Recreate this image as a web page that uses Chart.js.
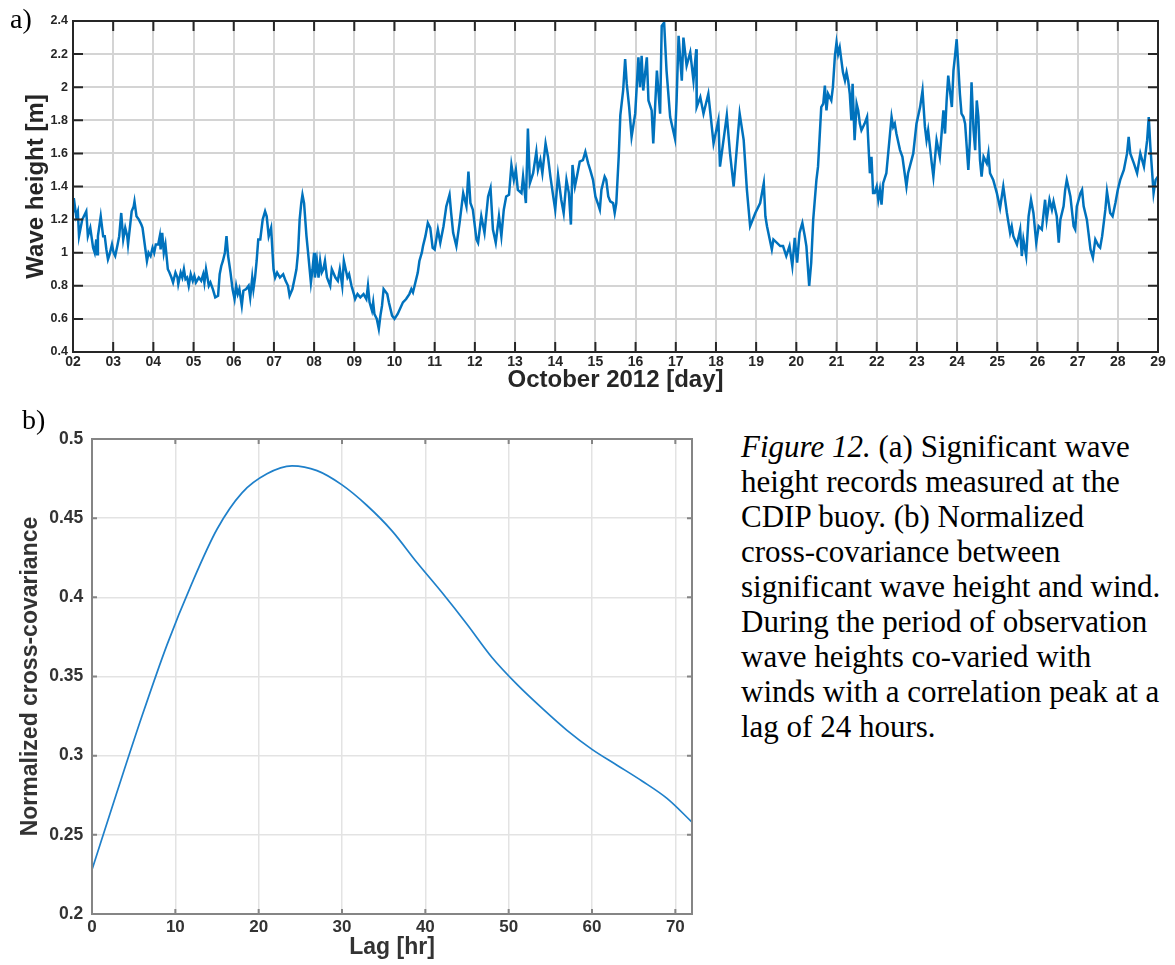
<!DOCTYPE html>
<html>
<head>
<meta charset="utf-8">
<script src="https://cdn.jsdelivr.net/npm/chart.js@4.4.0/dist/chart.umd.min.js"></script>
<style>
  html, body { margin: 0; padding: 0; background: #fff; }
  body { width: 1175px; height: 965px; position: relative; overflow: hidden; }
  canvas { position: absolute; left: 0; }
  #waveCanvas { top: 0; }
  #lagCanvas { top: 400px; }
  .panel-tag {
    position: absolute;
    font-family: "Liberation Serif", "Times New Roman", serif;
    font-size: 28px; line-height: 28px; color: #000;
  }
  #caption {
    position: absolute; left: 741px; top: 429px;
    font-family: "Liberation Serif", "Times New Roman", serif;
    font-size: 31px; line-height: 35px; color: #000; white-space: nowrap;
  }
</style>
</head>
<body>
<canvas id="waveCanvas" width="1175" height="400"></canvas>
<canvas id="lagCanvas" width="720" height="565"></canvas>
<div class="panel-tag" style="left:10px; top:5px;">a)</div>
<div class="panel-tag" style="left:22px; top:406px;">b)</div>
<div id="caption"><i>Figure 12.</i> (a) Significant wave<br>height records measured at the<br>CDIP buoy. (b) Normalized<br>cross-covariance between<br>significant wave height and wind.<br>During the period of observation<br>wave heights co-varied with<br>winds with a correlation peak at a<br>lag of 24 hours.</div>
<script>
// (a) significant wave height, October 2012 (day of month, metres)
const obsDay = [
  2.00, 2.02, 2.08, 2.12, 2.15, 2.23, 2.33, 2.37, 2.43, 2.50, 2.54, 2.58, 2.60, 2.62, 2.69, 2.75, 2.79, 2.83, 2.87, 2.91, 2.97,
  3.01, 3.05, 3.11, 3.15, 3.20, 3.25, 3.30, 3.35, 3.37, 3.46, 3.51, 3.53, 3.58, 3.64, 3.70, 3.73, 3.84, 3.88, 3.93, 3.98,
  4.02, 4.06, 4.12, 4.16, 4.18, 4.22, 4.26, 4.30, 4.36, 4.40, 4.45, 4.49, 4.55, 4.60, 4.62, 4.68, 4.72, 4.76, 4.80, 4.84, 4.88, 4.93, 4.98,
  5.02, 5.06, 5.13, 5.19, 5.24, 5.27, 5.31, 5.38, 5.42, 5.48, 5.54, 5.61, 5.65, 5.69, 5.73, 5.78, 5.82, 5.86, 5.92, 5.97,
  6.02, 6.06, 6.10, 6.14, 6.20, 6.24, 6.31, 6.37, 6.41, 6.46, 6.49, 6.53, 6.57, 6.61, 6.66, 6.72, 6.78, 6.82, 6.87, 6.93, 6.99,
  7.03, 7.08, 7.15, 7.23, 7.29, 7.35, 7.39, 7.46, 7.52, 7.56, 7.60, 7.64, 7.68, 7.71, 7.75, 7.81, 7.85, 7.92, 7.96,
  8.00, 8.02, 8.07, 8.11, 8.15, 8.19, 8.23, 8.27, 8.32, 8.40, 8.44, 8.53, 8.59, 8.64, 8.70, 8.74, 8.83, 8.87, 8.93, 8.99,
  9.02, 9.08, 9.15, 9.23, 9.30, 9.34, 9.38, 9.44, 9.47, 9.50, 9.56, 9.61, 9.65, 9.69, 9.73, 9.82, 9.86, 9.94,
  10.00, 10.08, 10.21, 10.29, 10.37, 10.42, 10.46, 10.52, 10.58, 10.62, 10.68, 10.71, 10.77, 10.83, 10.89, 10.95,
  11.00, 11.08, 11.14, 11.22, 11.29, 11.37, 11.41, 11.46, 11.54, 11.62, 11.71, 11.79, 11.84, 11.89, 11.95,
  12.04, 12.08, 12.16, 12.24, 12.33, 12.39, 12.45, 12.52, 12.60, 12.66, 12.72, 12.78, 12.85, 12.91, 12.97,
  13.02, 13.07, 13.16, 13.20, 13.27, 13.32, 13.37, 13.45, 13.53, 13.57, 13.63, 13.68, 13.76, 13.82, 13.88, 13.95,
  14.00, 14.07, 14.15, 14.21, 14.28, 14.34, 14.39, 14.43, 14.49, 14.54, 14.61, 14.69, 14.75, 14.82, 14.87, 14.94,
  15.00, 15.07, 15.11, 15.15, 15.23, 15.27, 15.32, 15.37, 15.44, 15.48, 15.52, 15.58, 15.62, 15.69, 15.74, 15.78, 15.84, 15.90, 15.99,
  16.07, 16.11, 16.15, 16.19, 16.28, 16.32, 16.40, 16.44, 16.53, 16.61, 16.65, 16.71, 16.77, 16.86, 16.98,
  17.02, 17.07, 17.15, 17.19, 17.27, 17.36, 17.44, 17.51, 17.52, 17.61, 17.69, 17.81, 17.94,
  18.06, 18.10, 18.27, 18.35, 18.44, 18.59, 18.69, 18.77, 18.85, 18.98,
  19.10, 19.19, 19.23, 19.27, 19.39, 19.43, 19.60, 19.67, 19.75, 19.83, 19.90, 19.96,
  20.02, 20.08, 20.15, 20.21, 20.25, 20.32, 20.37, 20.42, 20.50, 20.54, 20.62, 20.67, 20.71, 20.75, 20.79, 20.87, 20.91, 20.96,
  21.00, 21.04, 21.08, 21.16, 21.21, 21.25, 21.29, 21.33, 21.37, 21.40, 21.45, 21.50, 21.54, 21.58, 21.62, 21.70, 21.76, 21.83, 21.87, 21.91, 21.95,
  22.00, 22.04, 22.08, 22.12, 22.16, 22.24, 22.37, 22.41, 22.45, 22.49, 22.58, 22.64, 22.74, 22.78, 22.91, 22.99,
  23.08, 23.14, 23.20, 23.24, 23.28, 23.37, 23.41, 23.49, 23.57, 23.66, 23.70, 23.74, 23.78, 23.87, 23.91, 23.95, 23.99,
  24.03, 24.07, 24.11, 24.16, 24.20, 24.28, 24.32, 24.36, 24.41, 24.45, 24.49, 24.53, 24.57, 24.61, 24.66, 24.74, 24.78, 24.82, 24.90, 24.99,
  25.07, 25.15, 25.24, 25.32, 25.36, 25.40, 25.49, 25.57, 25.61, 25.65, 25.72, 25.78, 25.84, 25.90, 25.97,
  26.03, 26.11, 26.19, 26.23, 26.30, 26.36, 26.40, 26.48, 26.53, 26.57, 26.65, 26.69, 26.73, 26.82, 26.90, 26.94, 26.98,
  27.07, 27.11, 27.15, 27.23, 27.27, 27.32, 27.38, 27.44, 27.52, 27.56, 27.61, 27.69, 27.73, 27.81, 27.87, 27.94,
  28.00, 28.06, 28.15, 28.23, 28.27, 28.31, 28.40, 28.48, 28.56, 28.65, 28.73, 28.77, 28.81, 28.85, 28.89, 28.94, 29.00
];
const waveHeight = [
  1.25, 1.33, 1.22, 1.25, 1.10, 1.20, 1.25, 1.10, 1.15, 1.03, 1.00, 1.08, 0.99, 1.10, 1.22, 1.10, 1.10, 1.02, 0.96, 0.99, 1.05,
  1.00, 0.98, 1.05, 1.10, 1.24, 1.08, 1.15, 1.10, 1.05, 1.25, 1.28, 1.31, 1.22, 1.20, 1.17, 1.15, 0.95, 1.00, 0.98, 1.03,
  1.00, 1.05, 1.05, 1.10, 1.02, 1.12, 1.00, 1.05, 0.90, 0.88, 0.85, 0.82, 0.88, 0.85, 0.81, 0.88, 0.85, 0.90, 0.84, 0.85, 0.80, 0.87, 0.83,
  0.86, 0.82, 0.85, 0.83, 0.87, 0.82, 0.90, 0.80, 0.82, 0.78, 0.73, 0.74, 0.87, 0.92, 0.95, 1.00, 1.10, 0.98, 0.88, 0.78,
  0.72, 0.80, 0.75, 0.78, 0.68, 0.77, 0.78, 0.80, 0.73, 0.85, 0.78, 0.85, 0.95, 1.08, 1.08, 1.20, 1.25, 1.22, 1.10, 1.15, 0.90,
  0.85, 0.88, 0.85, 0.87, 0.83, 0.80, 0.74, 0.78, 0.85, 0.90, 1.00, 1.20, 1.30, 1.35, 1.30, 1.10, 1.00, 0.82, 0.90,
  1.00, 0.85, 0.95, 0.85, 0.95, 0.88, 0.90, 0.95, 0.85, 0.80, 0.90, 0.85, 0.83, 0.90, 0.80, 0.95, 0.85, 0.87, 0.80, 0.75,
  0.72, 0.75, 0.73, 0.75, 0.72, 0.80, 0.70, 0.65, 0.70, 0.63, 0.60, 0.54, 0.62, 0.68, 0.78, 0.75, 0.70, 0.62,
  0.60, 0.63, 0.70, 0.72, 0.75, 0.78, 0.76, 0.82, 0.88, 0.95, 1.00, 1.04, 1.10, 1.18, 1.15, 1.03,
  1.02, 1.14, 1.06, 1.16, 1.28, 1.35, 1.24, 1.12, 1.04, 1.18, 1.36, 1.28, 1.49, 1.30, 1.26,
  1.08, 1.06, 1.22, 1.12, 1.34, 1.39, 1.14, 1.06, 1.22, 1.10, 1.26, 1.34, 1.35, 1.53, 1.44,
  1.50, 1.38, 1.36, 1.46, 1.30, 1.75, 1.42, 1.48, 1.61, 1.50, 1.56, 1.48, 1.66, 1.58, 1.46, 1.34,
  1.26, 1.47, 1.32, 1.24, 1.44, 1.36, 1.17, 1.53, 1.40, 1.46, 1.55, 1.56, 1.61, 1.54, 1.50, 1.44,
  1.34, 1.29, 1.26, 1.38, 1.46, 1.44, 1.34, 1.31, 1.30, 1.24, 1.30, 1.58, 1.83, 1.98, 2.17, 2.02, 1.88, 1.70, 1.84,
  2.18, 2.00, 2.19, 1.98, 2.18, 1.92, 1.86, 1.66, 2.10, 1.84, 2.37, 2.39, 2.10, 1.82, 1.69,
  1.92, 2.31, 2.04, 2.30, 2.13, 2.21, 2.04, 2.23, 1.88, 1.94, 1.84, 1.96, 1.66,
  1.80, 1.52, 1.83, 1.60, 1.40, 1.84, 1.68, 1.38, 1.16, 1.24,
  1.30, 1.42, 1.22, 1.16, 1.02, 1.08, 1.04, 1.04, 0.98, 1.04, 0.92, 1.09,
  0.94, 1.12, 1.18, 1.10, 1.04, 0.80, 0.94, 1.20, 1.44, 1.52, 1.88, 1.90, 2.01, 1.86, 1.96, 1.92, 2.00, 2.19,
  2.27, 2.20, 2.24, 2.09, 2.04, 2.09, 2.04, 1.96, 1.80, 2.02, 1.68, 1.90, 1.86, 1.78, 1.74, 1.78, 1.82, 1.48, 1.58, 1.36, 1.36,
  1.40, 1.32, 1.38, 1.29, 1.42, 1.48, 1.82, 1.76, 1.78, 1.72, 1.62, 1.58, 1.40, 1.48, 1.60, 1.78,
  1.88, 1.98, 1.76, 1.68, 1.74, 1.54, 1.46, 1.68, 1.58, 1.86, 1.72, 1.92, 2.07, 1.88, 2.10, 2.19, 2.29,
  2.13, 1.96, 1.84, 1.82, 1.78, 1.50, 1.68, 2.03, 1.74, 1.62, 1.92, 1.82, 1.56, 1.46, 1.58, 1.54, 1.60, 1.48, 1.44, 1.36,
  1.27, 1.40, 1.24, 1.12, 1.16, 1.10, 1.05, 1.14, 0.98, 1.08, 0.98, 1.22, 1.32, 1.24, 1.06,
  1.16, 1.14, 1.32, 1.20, 1.32, 1.26, 1.31, 1.22, 1.06, 1.20, 1.28, 1.38, 1.44, 1.34, 1.16, 1.14, 1.28,
  1.36, 1.38, 1.28, 1.20, 1.12, 1.02, 0.97, 1.08, 1.04, 1.03, 1.10, 1.26, 1.37, 1.24, 1.22, 1.30,
  1.38, 1.44, 1.50, 1.60, 1.70, 1.60, 1.54, 1.48, 1.60, 1.52, 1.68, 1.82, 1.64, 1.50, 1.36, 1.44, 1.46
];
const dayLabels = ['02','03','04','05','06','07','08','09','10','11','12','13','14','15',
                   '16','17','18','19','20','21','22','23','24','25','26','27','28','29'];
const heightTicks = [0.4, 0.6, 0.8, 1.0, 1.2, 1.4, 1.6, 1.8, 2.0, 2.2, 2.4];

// (b) normalized cross-covariance of wave height and wind vs. lag
const lagHours = [0, 3, 6, 9, 12, 15, 18, 21, 24, 27, 30, 33, 36, 39, 42, 45, 48, 51, 54, 57, 60, 63, 66, 69, 72];
const crossCov = [0.228, 0.277, 0.325, 0.370, 0.409, 0.443, 0.466, 0.478, 0.483, 0.480, 0.471, 0.458,
                  0.442, 0.422, 0.403, 0.383, 0.362, 0.345, 0.330, 0.316, 0.304, 0.294, 0.284, 0.273, 0.258];
const lagTicks = [0, 10, 20, 30, 40, 50, 60, 70];
const covTicks = [0.2, 0.25, 0.3, 0.35, 0.4, 0.45, 0.5];

const SANS = "'Liberation Sans', Arial, Helvetica, sans-serif";

// frame around the plot area plus inward tick marks on all four sides
const frameTicks = {
  id: 'frameTicks',
  afterDatasetsDraw(chart, args, opts) {
    const { ctx, chartArea: a, scales: { x, y } } = chart;
    ctx.save();
    ctx.strokeStyle = opts.color;
    ctx.lineWidth = opts.width;
    ctx.beginPath();
    x.ticks.forEach(t => {
      const px = x.getPixelForValue(t.value);
      ctx.moveTo(px, a.top); ctx.lineTo(px, a.top + opts.len);
      ctx.moveTo(px, a.bottom); ctx.lineTo(px, a.bottom - opts.len);
    });
    y.ticks.forEach(t => {
      const py = y.getPixelForValue(t.value);
      ctx.moveTo(a.left, py); ctx.lineTo(a.left + opts.len, py);
      ctx.moveTo(a.right, py); ctx.lineTo(a.right - opts.len, py);
    });
    ctx.stroke();
    ctx.strokeRect(a.left, a.top, a.right - a.left, a.bottom - a.top);
    ctx.restore();
  }
};

new Chart(document.getElementById('waveCanvas'), {
  type: 'line',
  data: {
    datasets: [{
      data: obsDay.map((d, i) => ({ x: d, y: waveHeight[i] })),
      borderColor: '#0072bd',
      borderWidth: 2.5,
      pointRadius: 0,
      tension: 0
    }]
  },
  options: {
    responsive: false,
    animation: false,
    devicePixelRatio: 1,
    layout: { padding: { left: 0, right: 17, top: 21, bottom: 5.6 } },
    plugins: {
      legend: { display: false },
      tooltip: { enabled: false },
      frameTicks: { color: '#262626', width: 2, len: 10 }
    },
    scales: {
      x: {
        type: 'linear', min: 2, max: 29,
        afterBuildTicks: s => { s.ticks = dayLabels.map(l => ({ value: Number(l) })); },
        afterFit: s => { s.height = 42.4; },
        grid: { color: '#d4d4d4', lineWidth: 2, drawTicks: false },
        border: { display: false },
        ticks: {
          autoSkip: false, maxRotation: 0, padding: 1.6, color: '#262626',
          font: { family: SANS, size: 14, weight: 'bold' },
          callback: v => dayLabels[dayLabels.map(Number).indexOf(v)]
        },
        title: {
          display: true, text: 'October 2012 [day]', color: '#262626',
          padding: { top: 0, bottom: 0 },
          font: { family: SANS, size: 24, weight: 'bold' }
        }
      },
      y: {
        min: 0.4, max: 2.4,
        afterBuildTicks: s => { s.ticks = heightTicks.map(v => ({ value: v })); },
        afterFit: s => { s.width = 73; },
        grid: { color: '#d4d4d4', lineWidth: 2, drawTicks: false },
        border: { display: false },
        ticks: {
          padding: 5, color: '#262626',
          font: { family: SANS, size: 12.5, weight: 'bold' },
          callback: v => String(Math.round(v * 10) / 10)
        },
        title: {
          display: true, text: 'Wave height [m]', color: '#262626',
          padding: { top: 21.6, bottom: 0 },
          font: { family: SANS, size: 24, weight: 'bold' }
        }
      }
    }
  },
  plugins: [frameTicks]
});

new Chart(document.getElementById('lagCanvas'), {
  type: 'line',
  data: {
    datasets: [{
      data: lagHours.map((h, i) => ({ x: h, y: crossCov[i] })),
      borderColor: '#1f80ca',
      borderWidth: 1.7,
      pointRadius: 0,
      cubicInterpolationMode: 'monotone'
    }]
  },
  options: {
    responsive: false,
    animation: false,
    devicePixelRatio: 1,
    layout: { padding: { left: 0, right: 28, top: 39, bottom: 3.2 } },
    plugins: {
      legend: { display: false },
      tooltip: { enabled: false },
      frameTicks: { color: '#858585', width: 2, len: 5 }
    },
    scales: {
      x: {
        type: 'linear', min: 0, max: 72,
        afterBuildTicks: s => { s.ticks = lagTicks.map(v => ({ value: v })); },
        afterFit: s => { s.height = 47.8; },
        grid: { color: '#e3e3e3', lineWidth: 1.5, drawTicks: false },
        border: { display: false },
        ticks: {
          autoSkip: false, maxRotation: 0, padding: 3.3, color: '#333333',
          font: { family: SANS, size: 17, weight: 'bold' }
        },
        title: {
          display: true, text: 'Lag [hr]', color: '#333333',
          padding: { top: 0, bottom: 0 },
          font: { family: SANS, size: 23, weight: 'bold' }
        }
      },
      y: {
        min: 0.2, max: 0.5,
        afterBuildTicks: s => { s.ticks = covTicks.map(v => ({ value: v })); },
        afterFit: s => { s.width = 92; },
        grid: { color: '#e3e3e3', lineWidth: 1.5, drawTicks: false },
        border: { display: false },
        ticks: {
          padding: 8.7, color: '#333333',
          font: { family: SANS, size: 17.5, weight: 'bold' },
          callback: v => String(Math.round(v * 100) / 100)
        },
        title: {
          display: true, text: 'Normalized cross-covariance', color: '#333333',
          padding: { top: 17.2, bottom: 0 },
          font: { family: SANS, size: 23, weight: 'bold' }
        }
      }
    }
  },
  plugins: [frameTicks]
});
</script>
</body>
</html>
